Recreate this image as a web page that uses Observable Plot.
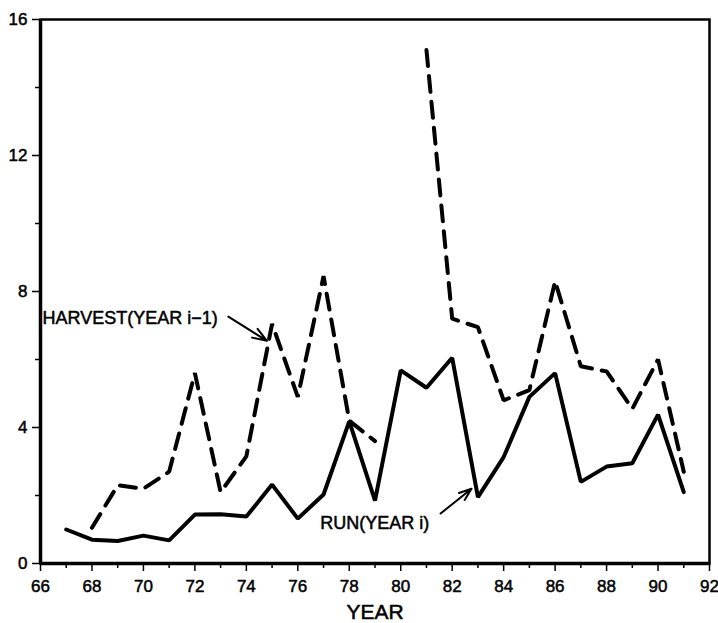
<!DOCTYPE html>
<html><head><meta charset="utf-8">
<script src="https://cdn.jsdelivr.net/npm/d3@7"></script>
<script src="https://cdn.jsdelivr.net/npm/@observablehq/plot@0.6"></script>
<style>
body{margin:0;background:#fff}
</style>
</head><body><div id="chart"></div>
<script>
const years   = [67,68,69,70,71,72,73,74,75,76,77,78,79,80,81,82,83,84,85,86,87,88,89,90,91];
const run     = [1.0,0.7,0.66,0.82,0.68,1.44,1.45,1.38,2.32,1.32,2.03,4.18,1.85,5.68,5.17,6.05,1.95,3.13,4.9,5.6,2.4,2.85,2.95,4.38,2.1];
const harvest = [null,1.05,2.3,2.2,2.7,5.6,2.1,3.15,7.05,4.9,8.45,4.2,3.6,null,15.1,7.2,6.95,4.8,5.1,8.3,5.8,5.65,4.55,6.0,2.7];

const xMajor = d3.range(66, 93, 2);
const xMinor = d3.range(67, 92, 2);
const yMajor = [0, 4, 8, 12, 16];
const yMinor = [2, 6, 10, 14];

const labels = ["HARVEST(YEAR i\u22121)", "RUN(YEAR i)"];
const labelX = [66.08, 76.87];
const labelY = [7.2, 1.18];
const arrowX1 = [73.3, 81.55];
const arrowY1 = [7.26, 1.47];
const arrowX2 = [74.8, 82.75];
const arrowY2 = [6.55, 2.2];

const runData = years.map((y, i) => ({year: y, value: run[i]}));
const harvestData = years.map((y, i) => ({year: y, value: harvest[i]}));
const labelData = labels.map((t, i) => ({t, x: labelX[i], y: labelY[i]}));
const arrowData = arrowX1.map((x, i) => ({x1: x, y1: arrowY1[i], x2: arrowX2[i], y2: arrowY2[i]}));

const font = "'Liberation Sans', Arial, sans-serif";
const heavy = {fill: "#000", stroke: "#000", strokeWidth: 0.5};

const chart = Plot.plot({
  width: 718,
  height: 623,
  marginLeft: 40,
  marginRight: 9,
  marginTop: 19,
  marginBottom: 60,
  style: {fontFamily: font, color: "#000", background: "#fff"},
  x: {domain: [66, 92]},
  y: {domain: [0, 16]},
  marks: [
    Plot.frame({stroke: "#000", strokeWidth: 2.5}),
    Plot.ruleX([66], {stroke: "#000", strokeWidth: 3.5}),
    Plot.ruleY([0], {stroke: "#000", strokeWidth: 3.5}),
    Plot.axisX({ticks: xMajor, tickSize: 8, tickFormat: () => "", label: null, strokeWidth: 1.5}),
    Plot.axisX({ticks: xMinor, tickSize: 5, tickFormat: () => "", label: null, strokeWidth: 1.5}),
    Plot.axisY({ticks: yMajor, tickSize: 8, tickFormat: () => "", label: null, strokeWidth: 1.5}),
    Plot.axisY({ticks: yMinor, tickSize: 5, tickFormat: () => "", label: null, strokeWidth: 1.5}),
    Plot.text(xMajor, {x: d => d, frameAnchor: "bottom", lineAnchor: "middle", dy: 23, fontSize: 17, ...heavy}),
    Plot.text(yMajor, {y: d => d, frameAnchor: "left", textAnchor: "end", lineAnchor: "middle", dx: -13, fontSize: 17, ...heavy}),
    Plot.line(harvestData, {x: "year", y: "value", stroke: "#000", strokeWidth: 4, strokeDasharray: "16,10", strokeLinejoin: "miter"}),
    Plot.line(runData, {x: "year", y: "value", stroke: "#000", strokeWidth: 4, strokeLinejoin: "miter"}),
    Plot.text(labelData, {x: "x", y: "y", text: "t", textAnchor: "start", fontSize: 18, ...heavy}),
    Plot.arrow(arrowData, {x1: "x1", y1: "y1", x2: "x2", y2: "y2", stroke: "#000", strokeWidth: 2, headLength: 12, headAngle: 40, bend: 0}),
    Plot.text(["YEAR"], {frameAnchor: "bottom", lineAnchor: "middle", dy: 49, fontSize: 21, ...heavy})
  ]
});
document.getElementById("chart").appendChild(chart);
</script>
</body></html>
